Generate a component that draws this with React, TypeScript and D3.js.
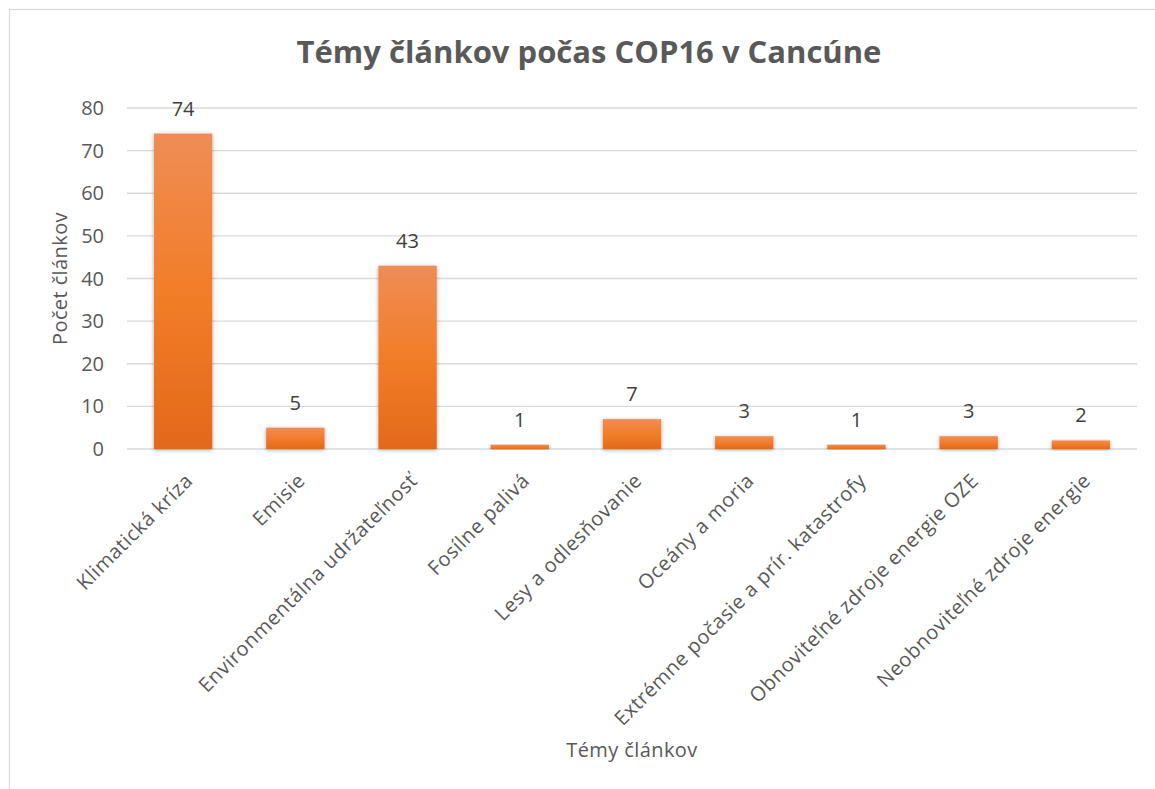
import React from "react";
import * as d3 from "d3";

const categories = [
  "Klimatická kríza",
  "Emisie",
  "Environmentálna udržateľnosť",
  "Fosílne palivá",
  "Lesy a odlesňovanie",
  "Oceány a moria",
  "Extrémne počasie a prír. katastrofy",
  "Obnoviteľné zdroje energie OZE",
  "Neobnoviteľné zdroje energie",
];
const values = [74, 5, 43, 1, 7, 3, 1, 3, 2];
const yTicks = [0, 10, 20, 30, 40, 50, 60, 70, 80];
const title = "Témy článkov počas COP16 v Cancúne";
const xTitle = "Témy článkov";
const yTitle = "Počet článkov";

const W = 1155;
const H = 789;
const plot = { left: 127, right: 1137, top: 108, bottom: 449 };
const FONT = "'Open Sans', 'Liberation Sans', sans-serif";
const TEXT = "#595959";

export default function App() {
  const x = d3
    .scaleBand<string>()
    .domain(categories)
    .range([plot.left, plot.right])
    .paddingInner(0.48)
    .paddingOuter(0.24);
  const y = d3.scaleLinear().domain([0, 80]).range([plot.bottom, plot.top]);

  return (
    <svg
      width={W}
      height={H}
      style={{ position: "absolute", left: 0, top: 0, fontFamily: FONT }}
    >
      <defs>
        <linearGradient id="barGrad" x1="0" y1="0" x2="0" y2="1">
          <stop offset="0%" stopColor="#EF8D55" />
          <stop offset="50%" stopColor="#F27D29" />
          <stop offset="100%" stopColor="#E2691A" />
        </linearGradient>
        <filter id="shadow" x="-20%" y="-20%" width="140%" height="140%">
          <feGaussianBlur in="SourceAlpha" stdDeviation="2" />
          <feOffset dx="0" dy="1" result="b" />
          <feComponentTransfer>
            <feFuncA type="linear" slope="0.35" />
          </feComponentTransfer>
          <feMerge>
            <feMergeNode />
            <feMergeNode in="SourceGraphic" />
          </feMerge>
        </filter>
      </defs>
      <rect x={0} y={0} width={W} height={H} fill="#fff" />
      <rect
        x={9.5}
        y={9.5}
        width={W + 20}
        height={H + 20}
        fill="#fff"
        stroke="#D9D9D9"
        strokeWidth={1.2}
      />
      <text
        x={589}
        y={63}
        textAnchor="middle"
        fontSize={31}
        fontWeight="bold"
        fill={TEXT}
      >
        {title}
      </text>
      {yTicks.map((t) => (
        <g key={t}>
          <line
            x1={plot.left}
            x2={plot.right}
            y1={y(t)}
            y2={y(t)}
            stroke="#D9D9D9"
            strokeWidth={1.3}
          />
          <text
            x={104}
            y={y(t)}
            dy="0.35em"
            textAnchor="end"
            fontSize={20}
            fill={TEXT}
          >
            {t}
          </text>
        </g>
      ))}
      {categories.map((c, i) => {
        const bx = x(c)!;
        const bw = x.bandwidth();
        const by = y(values[i]);
        const cx = bx + bw / 2;
        return (
          <g key={c}>
            <rect
              x={bx}
              y={by}
              width={bw}
              height={plot.bottom - by}
              fill="url(#barGrad)"
              filter="url(#shadow)"
            />
            <text
              x={cx}
              y={by - 18}
              textAnchor="middle"
              fontSize={20}
              fill="#404040"
            >
              {values[i]}
            </text>
            <text
              transform={`translate(${cx + 11},${plot.bottom + 33}) rotate(-45)`}
              textAnchor="end"
              fontSize={20}
              letterSpacing={0.6}
              fill={TEXT}
            >
              {c}
            </text>
          </g>
        );
      })}
      <text
        transform={`translate(67,${(plot.top + plot.bottom) / 2}) rotate(-90)`}
        textAnchor="middle"
        fontSize={20}
        letterSpacing={0.4}
        fill={TEXT}
      >
        {yTitle}
      </text>
      <text
        x={632}
        y={757}
        textAnchor="middle"
        fontSize={20}
        letterSpacing={0.4}
        fill={TEXT}
      >
        {xTitle}
      </text>
    </svg>
  );
}
